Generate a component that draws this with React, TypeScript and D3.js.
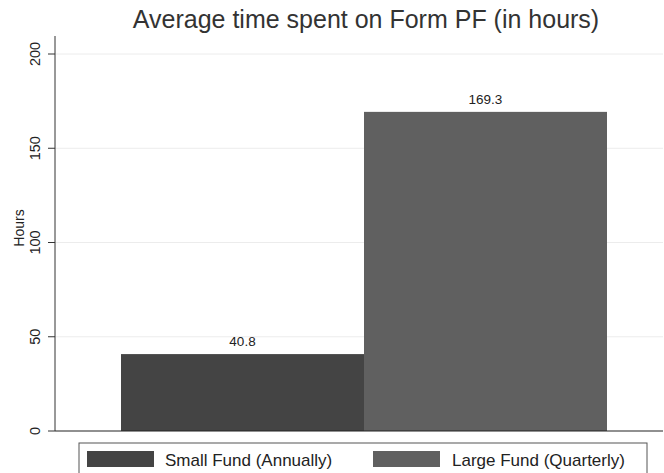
import React from "react";
import * as d3 from "d3";

const categories = ["Small Fund (Annually)", "Large Fund (Quarterly)"];
const values = [40.8, 169.3];
const colors = ["#444444", "#606060"];
const yTicks = [0, 50, 100, 150, 200];
const title = "Average time spent on Form PF (in hours)";
const yLabel = "Hours";

export default function App() {
  const W = 664, H = 473;
  const plotL = 55, plotR = 663, plotT = 36, plotB = 431;
  const y = d3.scaleLinear().domain([0, 200]).range([plotB, 54]);
  const x = d3.scaleBand().domain(categories).range([121, 607]).paddingInner(0);
  const font = "'Liberation Sans', Arial, Helvetica, sans-serif";
  return (
    <svg width={W} height={H} style={{ position: "absolute", left: 0, top: 0, background: "#fff" }} fontFamily={font}>
      <rect width={W} height={H} fill="#fff" />
      <text x={366} y={28} textAnchor="middle" fontSize={25} fill="#333">{title}</text>
      {yTicks.filter(t => t > 0).map(t => (
        <line key={"g" + t} x1={plotL} x2={plotR} y1={y(t)} y2={y(t)} stroke="#ececec" strokeWidth={1} />
      ))}
      {categories.map((c, i) => (
        <rect key={c} x={x(c)} y={y(values[i])} width={x.bandwidth()} height={plotB - y(values[i])} fill={colors[i]} />
      ))}
      {categories.map((c, i) => (
        <text key={"v" + c} x={(x(c) as number) + x.bandwidth() / 2} y={y(values[i]) - 8} textAnchor="middle" fontSize={13.5} fill="#222">{values[i].toFixed(1)}</text>
      ))}
      <line x1={plotL} x2={plotL} y1={plotT} y2={plotB} stroke="#333" strokeWidth={1} />
      <line x1={plotL} x2={plotR} y1={plotB} y2={plotB} stroke="#222" strokeWidth={1.2} />
      {yTicks.map(t => (
        <g key={"t" + t}>
          <line x1={plotL - 7} x2={plotL} y1={y(t)} y2={y(t)} stroke="#333" strokeWidth={1} />
          <text transform={`translate(40,${y(t)}) rotate(-90)`} textAnchor="middle" fontSize={14.5} fill="#222">{t}</text>
        </g>
      ))}
      <text transform={`translate(24,228) rotate(-90)`} textAnchor="middle" fontSize={14} fill="#222">{yLabel}</text>
      <rect x={79} y={443} width={568} height={40} fill="#fff" stroke="#555" strokeWidth={1} />
      {categories.map((c, i) => {
        const sx = i === 0 ? 87 : 373;
        return (
          <g key={"l" + c}>
            <rect x={sx} y={451} width={67} height={16} fill={colors[i]} />
            <text x={i === 0 ? 165 : 452} y={466} fontSize={17} fill="#222">{c}</text>
          </g>
        );
      })}
    </svg>
  );
}
